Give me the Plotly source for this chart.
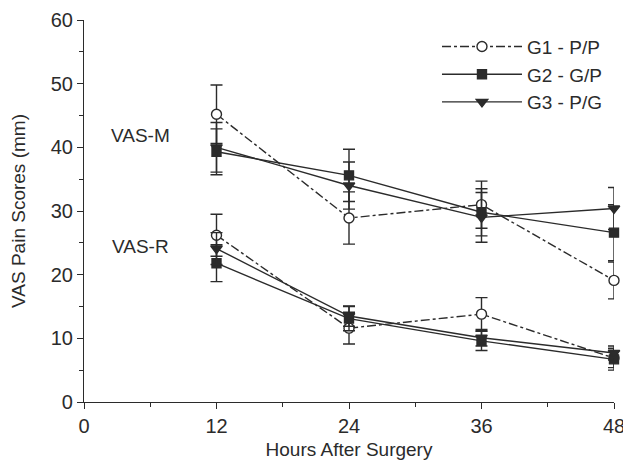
import plotly.graph_objects as go

hours = [12, 24, 36, 48]

# VAS-M (movement) scores
g1_m = [45.2, 28.9, 31.0, 19.1]
g1_m_sd = [4.6, 4.1, 3.7, 2.9]
g2_m = [39.3, 35.6, 29.8, 26.6]
g2_m_sd = [3.6, 4.1, 3.7, 4.4]
g3_m = [40.0, 34.0, 29.0, 30.4]
g3_m_sd = [3.9, 3.7, 3.9, 3.3]

# VAS-R (rest) scores
g1_r = [26.2, 11.6, 13.8, 6.9]
g1_r_sd = [3.3, 2.5, 2.6, 1.5]
g2_r = [21.8, 13.1, 9.6, 6.7]
g2_r_sd = [2.9, 1.9, 1.5, 1.7]
g3_r = [24.1, 13.5, 10.1, 7.7]
g3_r_sd = [2.5, 1.6, 1.3, 1.1]

group_names = ["G1 - P/P", "G2 - G/P", "G3 - P/G"]
x_ticks = [0, 12, 24, 36, 48]
y_ticks = [0, 10, 20, 30, 40, 50, 60]

col = "#2b2b2b"
FONT = "Liberation Sans, Arial, sans-serif"

styles = [
    dict(dash="dashdot", symbol="circle", fill="white", size=10),
    dict(dash="solid", symbol="square", fill=col, size=9),
    dict(dash="solid", symbol="triangle-down", fill=col, size=10),
]

fig = go.Figure()
series = [
    (g1_m, g1_m_sd, g1_r, g1_r_sd),
    (g2_m, g2_m_sd, g2_r, g2_r_sd),
    (g3_m, g3_m_sd, g3_r, g3_r_sd),
]
for i, (m, msd, r, rsd) in enumerate(series):
    st = styles[i]
    for j, (vals, sd) in enumerate([(m, msd), (r, rsd)]):
        fig.add_trace(go.Scatter(
            x=hours, y=vals, mode="lines+markers",
            name=group_names[i], legendgroup=group_names[i],
            showlegend=(j == 0),
            line=dict(color=col, width=1.4, dash=st["dash"]),
            marker=dict(symbol=st["symbol"], size=st["size"], color=st["fill"],
                        line=dict(color=col, width=1.4)),
            error_y=dict(type="data", array=sd, visible=True, color=col,
                         thickness=1.4, width=6),
            cliponaxis=False,
        ))

fig.add_annotation(x=5.1, y=41.8, text="VAS-M", showarrow=False,
                   font=dict(size=19, color=col, family=FONT), xanchor="center")
fig.add_annotation(x=5.1, y=24.4, text="VAS-R", showarrow=False,
                   font=dict(size=19, color=col, family=FONT), xanchor="center")

# page body has an 8px margin: figure is sized to fit the 631x466 window
fig.update_layout(
    width=623, height=458,
    margin=dict(l=76, r=17, t=12, b=64),
    paper_bgcolor="white", plot_bgcolor="white",
    font=dict(family=FONT, size=20, color=col),
    legend=dict(x=0.666, y=0.98, xanchor="left", yanchor="top",
                font=dict(size=19, family=FONT, color=col),
                bgcolor="rgba(0,0,0,0)", itemwidth=80, tracegroupgap=0),
    xaxis=dict(range=[0, 48], tickvals=x_ticks, ticktext=[str(v) for v in x_ticks],
               automargin=False, ticklabeloverflow="allow",
               showgrid=False, zeroline=False, showline=True, linecolor=col,
               linewidth=1.2, ticks="outside", ticklen=6, tickcolor=col,
               tickfont=dict(size=20),
               minor=dict(tickvals=[6, 18, 30, 42], ticks="outside", ticklen=4,
                          tickcolor=col),
               title=dict(text="Hours After Surgery", font=dict(size=19), standoff=6)),
    yaxis=dict(range=[0, 60], tickvals=y_ticks, showgrid=False, zeroline=False,
               automargin=False, ticklabeloverflow="allow",
               showline=True, linecolor=col, linewidth=1.2, ticks="outside",
               ticklen=6, tickcolor=col, tickfont=dict(size=20),
               minor=dict(tickvals=[5, 15, 25, 35, 45, 55], ticks="outside",
                          ticklen=4, tickcolor=col),
               title=dict(text="VAS Pain Scores (mm)", font=dict(size=19), standoff=20)),
)

fig.write_html("out.html")
